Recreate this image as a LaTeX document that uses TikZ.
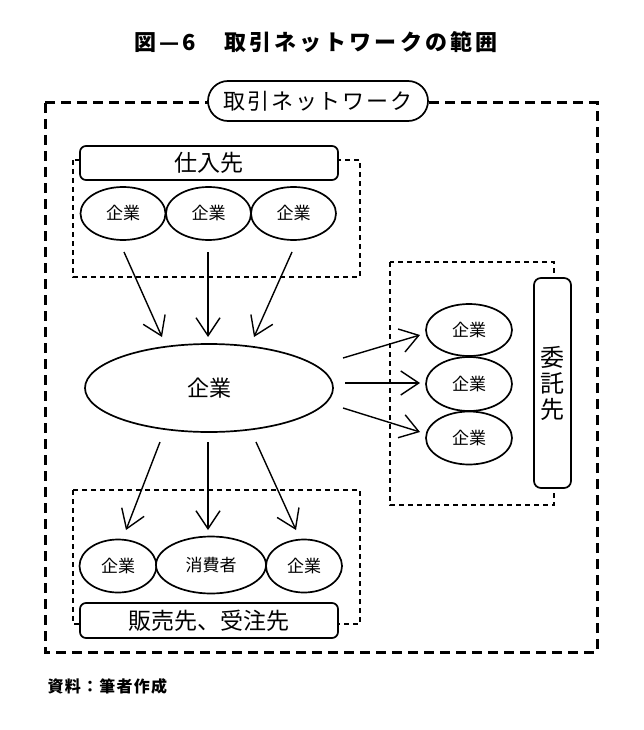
\documentclass[tikz,border=0pt]{standalone}
\usepackage{fontspec}
\setmainfont{Noto Sans CJK JP}
\newfontfamily\jpfont{Noto Sans CJK JP}
\usetikzlibrary{arrows.meta,shapes.geometric}
\tikzset{
  lw/.style={line width=1.7pt},
  bigdash/.style={line width=3pt,dash pattern=on 10pt off 6pt},
  smalldash/.style={line width=1.1pt,dash pattern=on 5pt off 4pt},
  oval/.style={ellipse,draw,lw,fill=white,inner sep=0pt,font=\jpfont\fontsize{17}{17}\selectfont},
  rbox/.style={draw,lw,rounded corners=6pt,fill=white,inner sep=0pt},
  arr/.style={line width=1.4pt,-{Straight Barb[length=18pt,width=24pt,line width=1.4pt]}},
}
\begin{document}
\begin{tikzpicture}[x=1pt,y=-1pt]
\useasboundingbox (0,0) rectangle (644,730);
% title
\node[font=\jpfont\bfseries\fontsize{22}{22}\selectfont] (title) at (316,42) {\addfontfeature{LetterSpace=14}図—6　取引ネットワークの範囲};
% outer dashed
\draw[bigdash] (45,103) rectangle (597,652);
\node[rbox,rounded corners=20pt,minimum width=220pt,minimum height=40pt,font=\jpfont\fontsize{22}{22}\selectfont] (net) at (318,101) {\addfontfeature{LetterSpace=8}取引ネットワーク};
% suppliers
\draw[smalldash] (73,160) rectangle (360,277);
\node[rbox,minimum width=258pt,minimum height=34pt,font=\jpfont\fontsize{23}{23}\selectfont] (sup) at (209,163) {仕入先};
\node[oval,minimum width=85pt,minimum height=53pt] (s1) at (123,213.5) {企業};
\node[oval,minimum width=85pt,minimum height=53pt] (s2) at (208.5,213.5) {企業};
\node[oval,minimum width=85pt,minimum height=53pt] (s3) at (293.5,213.5) {企業};
% main
\node[oval,minimum width=248pt,minimum height=88pt,font=\jpfont\fontsize{22}{22}\selectfont] (main) at (209,388) {企業};
% customers
\draw[smalldash] (73,490) rectangle (360,624);
\node[oval,minimum width=77pt,minimum height=53pt] (c1) at (118,566) {企業};
\node[oval,minimum width=110pt,minimum height=57pt] (c2) at (211,565) {消費者};
\node[oval,minimum width=76pt,minimum height=53pt] (c3) at (304,566) {企業};
\node[rbox,minimum width=258pt,minimum height=35pt,font=\jpfont\fontsize{23}{23}\selectfont] (cust) at (209,620.5) {販売先、受注先};
% contractors
\draw[smalldash] (390,262) rectangle (554,505);
\node[rbox,rounded corners=7pt,minimum width=37pt,minimum height=210pt,font=\jpfont\fontsize{24}{26}\selectfont,align=center] (con) at (552.5,383) {委\\託\\先};
\node[oval,minimum width=86pt,minimum height=52pt] (r1) at (469,330) {企業};
\node[oval,minimum width=86pt,minimum height=54pt] (r2) at (469,384) {企業};
\node[oval,minimum width=86pt,minimum height=53pt] (r3) at (469,438) {企業};
% footer
\node[font=\jpfont\bfseries\fontsize{16}{16}\selectfont,anchor=west] (src) at (44,686) {\addfontfeature{LetterSpace=8}資料：筆者作成};
% arrow endpoints
\coordinate (a1s) at (124,252); \coordinate (a1e) at (162,337);
\coordinate (a2s) at (208,252); \coordinate (a2e) at (208,337);
\coordinate (a3s) at (292,252); \coordinate (a3e) at (254,337);
\coordinate (b1s) at (160,442); \coordinate (b1e) at (126,530);
\coordinate (b2s) at (208,442); \coordinate (b2e) at (208,530);
\coordinate (b3s) at (256,442); \coordinate (b3e) at (296,530);
\coordinate (d1s) at (343,358); \coordinate (d1e) at (420,335);
\coordinate (d2s) at (345,383); \coordinate (d2e) at (420,383);
\coordinate (d3s) at (343,408); \coordinate (d3e) at (420,432);
\foreach \p in {a1,a2,a3,b1,b2,b3,d1,d2,d3}{\draw[arr] (\p s) -- (\p e);}
\end{tikzpicture}
\end{document}
